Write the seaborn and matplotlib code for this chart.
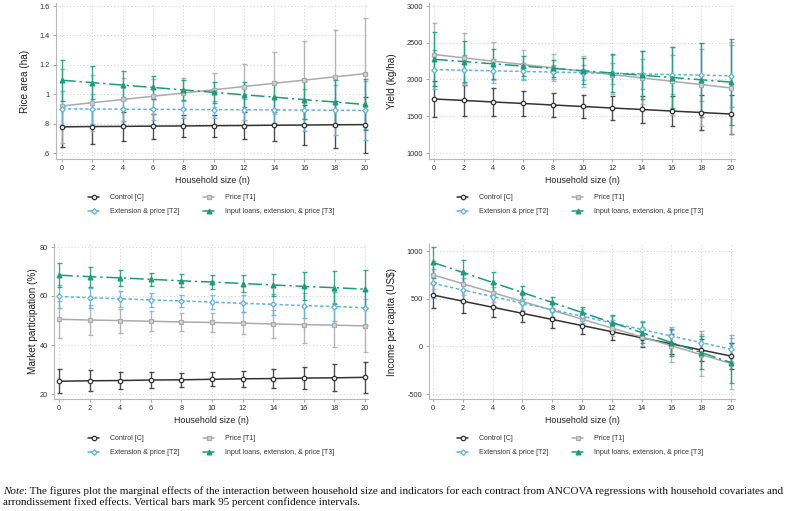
import numpy as np
import pandas as pd
import matplotlib
matplotlib.use("Agg")
import matplotlib.pyplot as plt
from matplotlib.lines import Line2D
import seaborn as sns

# x values (household size)
hh_size = [0, 2, 4, 6, 8, 10, 12, 14, 16, 18, 20]

contracts = ["Control [C]", "Price [T1]", "Extension & price [T2]",
             "Input loans, extension, & price [T3]"]

# point estimates, rows = C, T1, T2, T3
rice_mean = [
    [0.778, 0.780, 0.781, 0.783, 0.784, 0.786, 0.787, 0.789, 0.790, 0.792, 0.793],
    [0.920, 0.942, 0.964, 0.986, 1.008, 1.030, 1.052, 1.074, 1.096, 1.118, 1.140],
    [0.900, 0.899, 0.898, 0.897, 0.896, 0.895, 0.894, 0.893, 0.892, 0.891, 0.890],
    [1.095, 1.079, 1.062, 1.046, 1.029, 1.013, 0.996, 0.980, 0.963, 0.947, 0.930],
]
# half-width of 95% CI
rice_ci = [
    [0.14, 0.12, 0.10, 0.085, 0.075, 0.075, 0.09, 0.11, 0.135, 0.16, 0.19],
    [0.25, 0.19, 0.145, 0.12, 0.105, 0.115, 0.155, 0.21, 0.265, 0.32, 0.375],
    [0.12, 0.10, 0.08, 0.07, 0.06, 0.06, 0.07, 0.09, 0.14, 0.17, 0.20],
    [0.14, 0.115, 0.095, 0.08, 0.07, 0.07, 0.085, 0.10, 0.13, 0.15, 0.175],
]

yield_mean = [
    [1735, 1715, 1694, 1674, 1653, 1633, 1612, 1592, 1571, 1551, 1530],
    [2340, 2295, 2249, 2204, 2158, 2113, 2067, 2022, 1976, 1931, 1885],
    [2135, 2127, 2118, 2110, 2101, 2093, 2084, 2076, 2067, 2059, 2050],
    [2275, 2244, 2213, 2182, 2151, 2120, 2089, 2058, 2027, 1996, 1965],
]
yield_ci = [
    [245, 215, 195, 175, 160, 155, 165, 180, 205, 235, 265],
    [430, 340, 260, 200, 185, 210, 270, 360, 460, 560, 630],
    [260, 205, 160, 120, 100, 105, 140, 200, 270, 350, 420],
    [370, 280, 200, 140, 120, 175, 260, 330, 410, 500, 590],
]

market_mean = [
    [25.2, 25.4, 25.5, 25.7, 25.8, 26.0, 26.2, 26.3, 26.5, 26.6, 26.8],
    [50.5, 50.2, 49.96, 49.7, 49.4, 49.2, 48.9, 48.6, 48.3, 48.1, 47.8],
    [59.8, 59.3, 58.9, 58.4, 58.0, 57.5, 57.0, 56.6, 56.1, 55.7, 55.2],
    [68.5, 67.9, 67.4, 66.8, 66.2, 65.7, 65.1, 64.5, 63.9, 63.4, 62.8],
]
market_ci = [
    [4.9, 4.2, 3.6, 3.1, 2.8, 2.8, 3.3, 3.9, 4.6, 5.5, 6.4],
    [7.5, 6.0, 4.9, 4.0, 3.6, 3.7, 4.5, 5.8, 7.4, 9.1, 10.8],
    [4.8, 4.0, 3.3, 2.8, 2.6, 2.8, 3.4, 4.2, 5.1, 6.1, 7.1],
    [5.0, 4.1, 3.2, 2.6, 2.6, 2.8, 3.6, 4.6, 5.7, 6.8, 7.9],
]

income_mean = [
    [538, 474, 410, 346, 282, 218, 154, 90, 26, -38, -102],
    [750, 657, 564, 471, 378, 285, 192, 99, 6, -87, -180],
    [660, 591, 522, 453, 384, 315, 246, 177, 108, 39, -30],
    [880, 775, 670, 565, 460, 355, 250, 145, 40, -65, -170],
]
income_ci = [
    [140, 120, 105, 95, 88, 85, 88, 95, 105, 120, 135],
    [150, 120, 100, 85, 75, 75, 85, 100, 170, 220, 265],
    [155, 125, 100, 85, 75, 75, 75, 85, 100, 125, 150],
    [165, 135, 105, 73, 60, 60, 80, 115, 145, 175, 210],
]

colors = ["#333333", "#ababab", "#5ab4e8", "#1a9e74"]
markers = ["o", "s", "D", "^"]
marker_faces = ["white", "#d4d4d4", "white", "#1a9e74"]
marker_sizes = [3.2, 3.2, 2.8, 3.4]
line_styles = ["-", "-", (0, (2.2, 1.6)), (0, (9, 2.5, 1.5, 2.5))]

sns.set_theme(style="white")
plt.rcParams["font.family"] = ["Liberation Sans", "DejaVu Sans"]

W, H = 789, 511
fig = plt.figure(figsize=(W / 100, H / 100), dpi=100)


def make_axes(left, top, right, bottom, x0px, x20px, ylo, ylo_px, yhi, yhi_px):
    ax = fig.add_axes([left / W, 1 - bottom / H, (right - left) / W, (bottom - top) / H])
    xs = (x20px - x0px) / 20.0
    ax.set_xlim((left - x0px) / xs, 20 + (right - x20px) / xs)
    ys = (ylo_px - yhi_px) / (yhi - ylo)
    ax.set_ylim(ylo - (bottom - ylo_px) / ys, yhi + (yhi_px - top) / ys)
    return ax


def draw_panel(ax, means, cis, ylabel, yticks, yticklabels, ylabel_px, left):
    rows = []
    for name, m in zip(contracts, means):
        for x, v in zip(hh_size, m):
            rows.append({"contract": name, "size": x, "value": v})
    df = pd.DataFrame(rows)

    for m, h, col in zip(means, cis, colors):
        ax.errorbar(hh_size, m, yerr=h, fmt="none", ecolor=col, elinewidth=1.0,
                    capsize=1.8, capthick=1.0, alpha=0.85, zorder=2)
    for i, name in enumerate(contracts):
        sub = df[df["contract"] == name]
        sns.lineplot(data=sub, x="size", y="value", ax=ax, color=colors[i],
                     linestyle=line_styles[i], marker=markers[i],
                     markersize=marker_sizes[i], markerfacecolor=marker_faces[i],
                     markeredgecolor=colors[i], markeredgewidth=0.9,
                     linewidth=1.1, zorder=3, legend=False)

    ax.set_xticks(hh_size)
    ax.set_yticks(yticks)
    ax.set_yticklabels(yticklabels)
    ax.grid(True, linestyle=(0, (1, 2.5)), color="#cfcfcf", linewidth=0.7)
    ax.set_axisbelow(True)
    for s in ["top", "right"]:
        ax.spines[s].set_visible(False)
    for s in ["left", "bottom"]:
        ax.spines[s].set_color("#b8b8b8")
        ax.spines[s].set_linewidth(0.8)
    ax.tick_params(axis="both", which="both", length=2.5, width=0.6, color="#999999",
                   labelsize=5.3, labelcolor="#333333", pad=2, bottom=True, left=True)
    ax.set_xlabel("Household size (n)", fontsize=6.4, color="#222222", labelpad=3)
    ax.set_ylabel(ylabel, fontsize=7.2, color="#222222")
    bbox = ax.get_position()
    ax.yaxis.set_label_coords((ylabel_px - left) / (bbox.width * W), 0.5)

    handles = []
    for i in range(4):
        handles.append(Line2D([], [], color=colors[i], linestyle="-",
                              marker=markers[i], markersize=marker_sizes[i],
                              markerfacecolor=marker_faces[i], markeredgecolor=colors[i],
                              markeredgewidth=0.9, linewidth=1.1))
    return handles


panels = [
    # rect px, x0px, x20px, ylo, ylo_px, yhi, yhi_px
    dict(rect=(56, 3, 369, 159), x0=62, x20=365, ylo=0.6, ylo_px=153, yhi=1.6, yhi_px=6,
         means=rice_mean, cis=rice_ci, label="Rice area (ha)",
         yticks=[0.6, 0.8, 1.0, 1.2, 1.4, 1.6], ytl=[".6", ".8", "1", "1.2", "1.4", "1.6"],
         lab_px=30, leg=(88, 194)),
    dict(rect=(429, 3, 735, 159), x0=434, x20=731, ylo=1000, ylo_px=153, yhi=3000, yhi_px=6,
         means=yield_mean, cis=yield_ci, label="Yield (kg/ha)",
         yticks=[1000, 1500, 2000, 2500, 3000], ytl=["1000", "1500", "2000", "2500", "3000"],
         lab_px=397, leg=(457, 194)),
    dict(rect=(54, 244, 368, 399), x0=59, x20=365, ylo=20, ylo_px=394, yhi=80, yhi_px=247,
         means=market_mean, cis=market_ci, label="Market participation (%)",
         yticks=[20, 40, 60, 80], ytl=["20", "40", "60", "80"],
         lab_px=38, leg=(88, 435)),
    dict(rect=(429, 244, 735, 399), x0=433, x20=731, ylo=-500, ylo_px=394, yhi=1000, yhi_px=251,
         means=income_mean, cis=income_ci, label="Income per capita (US$)",
         yticks=[-500, 0, 500, 1000], ytl=["-500", "0", "500", "1000"],
         lab_px=397, leg=(457, 435)),
]

# legend fills column-wise, so reorder to get C, T1 on the first row
leg_order = [0, 2, 1, 3]

for p in panels:
    l, t, r, b = p["rect"]
    ax = make_axes(l, t, r, b, p["x0"], p["x20"], p["ylo"], p["ylo_px"], p["yhi"], p["yhi_px"])
    handles = draw_panel(ax, p["means"], p["cis"], p["label"], p["yticks"], p["ytl"],
                         p["lab_px"], l)
    lx, ly = p["leg"]
    fig.legend([handles[i] for i in leg_order], [contracts[i] for i in leg_order],
               ncol=2, loc="upper left",
               bbox_to_anchor=(lx / W, 1 - ly / H), frameon=False,
               fontsize=5.0, handlelength=1.6, handletextpad=1.5,
               columnspacing=3.5, labelspacing=1.0, borderpad=0, borderaxespad=0,
               labelcolor="#333333")

# note below the panels
note_ax = fig.add_axes([0, 0, 1, 1])
note_ax.axis("off")
note_ax.set_xlim(0, W)
note_ax.set_ylim(H, 0)
serif = ["Liberation Serif", "DejaVu Serif"]
fs_note = 8.05
t1 = note_ax.text(3, 491, "Note", fontsize=fs_note, family=serif, style="italic",
                  va="center", ha="left", color="#111111")
note_ax.annotate(": The figures plot the marginal effects of the interaction between household "
                 "size and indicators for each contract from ANCOVA regressions with household "
                 "covariates and",
                 xy=(1, 0), xycoords=t1, va="bottom", ha="left", fontsize=fs_note,
                 family=serif, color="#111111")
note_ax.text(3, 502, "arrondissement fixed effects. Vertical bars mark 95 percent confidence "
             "intervals.", fontsize=fs_note, family=serif, va="center", ha="left", color="#111111")

fig.savefig("out.png", dpi=100)
